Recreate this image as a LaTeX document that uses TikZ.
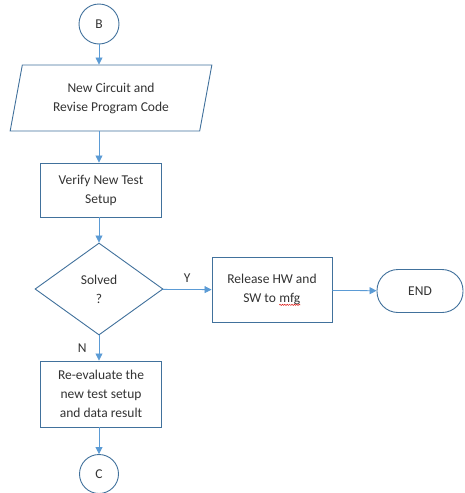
\documentclass[tikz,border=0pt]{standalone}
\usepackage{fontspec}
\setmainfont{Carlito}
\usetikzlibrary{shapes.geometric,arrows.meta,decorations.pathmorphing}
\definecolor{boxline}{HTML}{41719C}
\definecolor{flowline}{HTML}{5B9BD5}
\definecolor{spellred}{HTML}{E0201C}

% red wavy underline under a word
\newcommand{\spellmark}[1]{\tikz[baseline=(w.base)]{%
  \node[rectangle,draw=none,fill=none,inner sep=0,minimum width=0pt,minimum height=0pt] (w) {#1};
  \draw[spellred,line width=0.5pt,decorate,decoration={snake,segment length=2.4pt,amplitude=0.6pt}]
    ([yshift=-2.2pt]w.base west) -- ([yshift=-2.2pt]w.base east);}}

\begin{document}
\begin{tikzpicture}[x=1pt,y=-1pt]
\tikzstyle{every node}=[font=\fontsize{13.5}{19}\selectfont,text=black!80,align=center,inner sep=0]
\tikzstyle{box}=[draw=boxline,line width=0.9pt,fill=white]
\tikzstyle{proc}=[box,rectangle,minimum width=121pt]
\tikzstyle{io}=[box,trapezium,trapezium left angle=75.5,trapezium right angle=104.5,
  trapezium stretches=true,minimum width=202pt,minimum height=66pt]
\tikzstyle{decision}=[box,diamond,minimum width=128pt,minimum height=92pt]
\tikzstyle{conn}=[box,circle,minimum size=40pt]
\tikzstyle{term}=[box,rectangle,rounded corners=21pt,minimum width=86pt,minimum height=43pt]
\tikzstyle{flow}=[draw=flowline,line width=0.8pt,-{Triangle[length=7pt,width=7pt]}]
\tikzstyle{tag}=[font=\fontsize{13.5}{19}\selectfont,inner sep=3pt]

\useasboundingbox (0,0) rectangle (465,493);

\node[conn] (b) at (99,24) {B};
\node[io] (code) at (111,98) {New Circuit and\\Revise Program Code};
\node[proc,minimum height=54pt] (verify) at (101,190) {Verify New Test\\Setup};
\node[decision] (solved) at (99,289) {Solved\\?};
\node[proc,minimum width=120pt,minimum height=65pt] (release) at (272,290)
  {Release HW and\\SW to \spellmark{mfg}};
\node[term] (end) at (420,291) {END};
\node[proc,minimum height=66pt] (redo) at (101,394) {Re-evaluate the\\new test setup\\and data result};
\node[conn,minimum size=39pt] (c) at (99,474) {C};

\draw[flow] (b) -- (b |- code.north);
\draw[flow] (b |- code.south) -- (b |- verify.north);
\draw[flow] (solved |- verify.south) -- (solved);
\draw[flow] (solved) -- (release) node[tag,midway,above=4pt] {Y};
\draw[flow] (release) -- (end);
\draw[flow] (solved) -- (solved |- redo.north) node[tag,midway,left=9pt] {N};
\draw[flow] (solved |- redo.south) -- (c);
\end{tikzpicture}
\end{document}
